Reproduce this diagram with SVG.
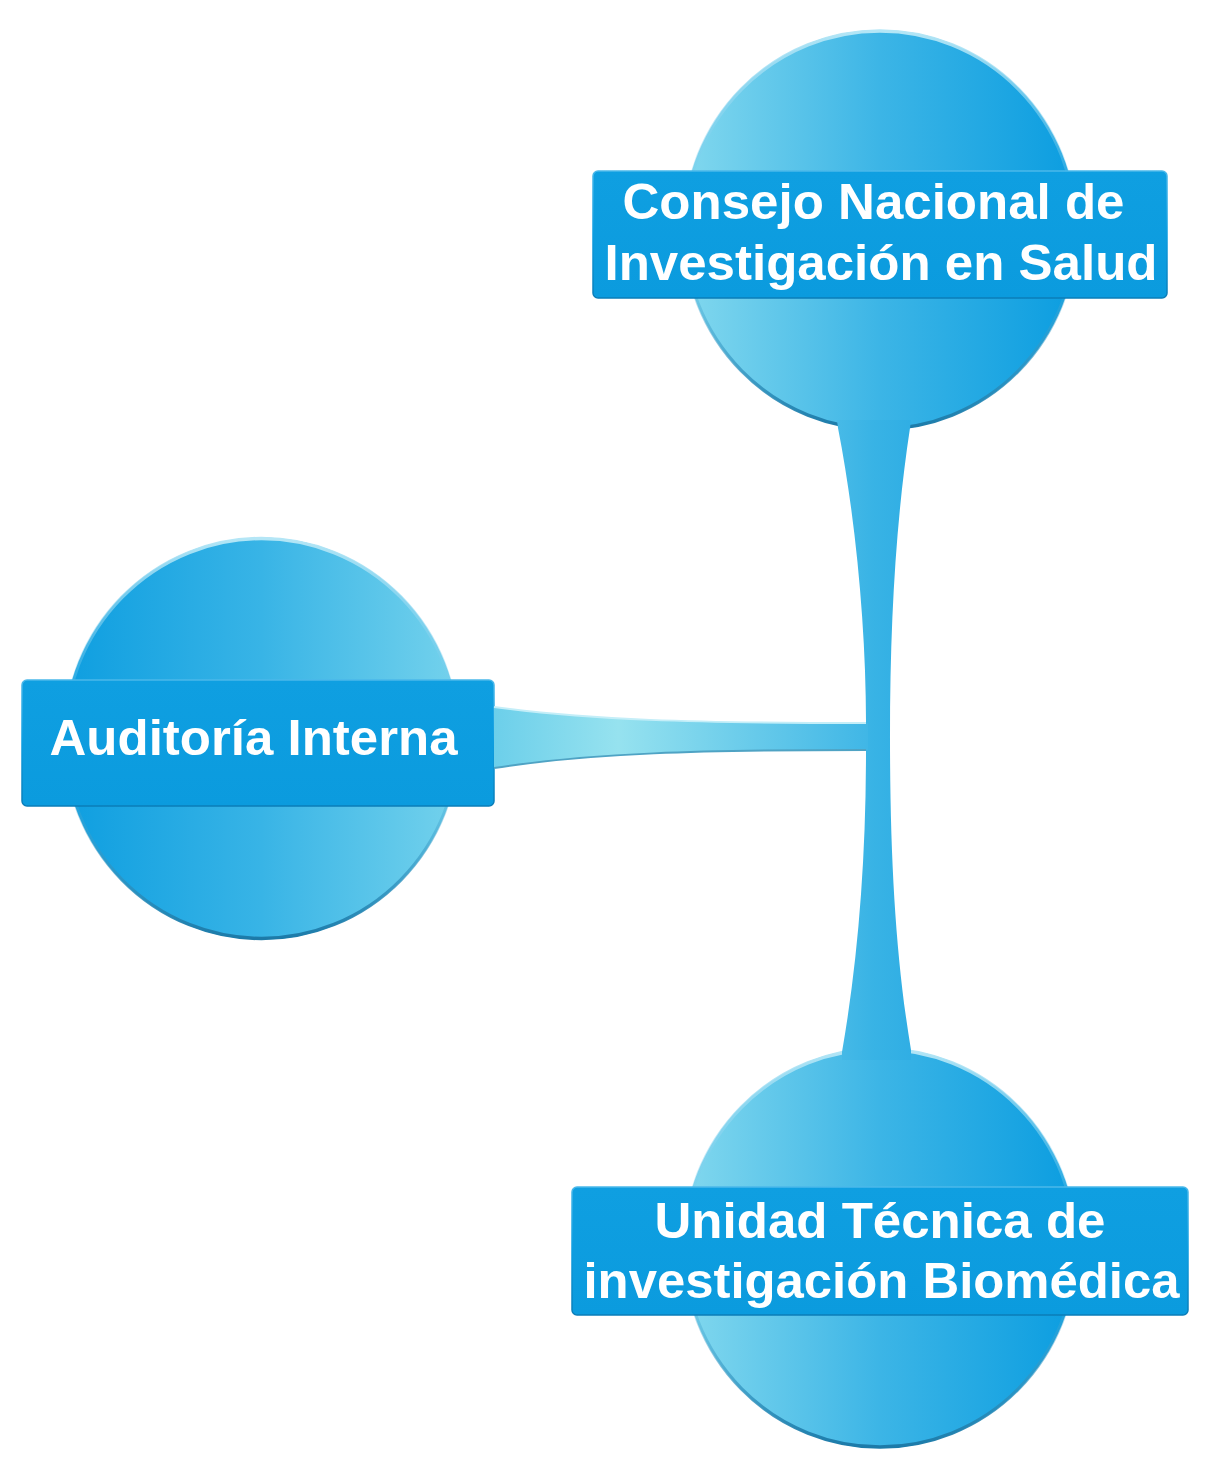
<svg xmlns="http://www.w3.org/2000/svg" width="1211" height="1473" viewBox="0 0 1211 1473">
<defs>
<linearGradient id="gLight" x1="0" y1="0" x2="1" y2="0">
<stop offset="0" stop-color="#82d8ee"/>
<stop offset="0.5" stop-color="#3cb5e6"/>
<stop offset="1" stop-color="#0b9de0"/>
</linearGradient>
<linearGradient id="gRev" x1="0" y1="0" x2="1" y2="0">
<stop offset="0" stop-color="#0e9ee0"/>
<stop offset="0.5" stop-color="#38b4e6"/>
<stop offset="1" stop-color="#74d2ec"/>
</linearGradient>
<linearGradient id="rim" x1="0" y1="0" x2="0" y2="1">
<stop offset="0" stop-color="#b4e6f6"/>
<stop offset="0.5" stop-color="#5cc0e8" stop-opacity="0"/>
<stop offset="1" stop-color="#1c7aa8"/>
</linearGradient>
<linearGradient id="lbl" x1="0" y1="0" x2="0" y2="1">
<stop offset="0" stop-color="#0f9fe1"/>
<stop offset="1" stop-color="#0b9bde"/>
</linearGradient>
<linearGradient id="lblEdge" x1="0" y1="0" x2="0" y2="1">
<stop offset="0" stop-color="#4ab8ea"/>
<stop offset="0.5" stop-color="#0e9de0"/>
<stop offset="1" stop-color="#0a7db8"/>
</linearGradient>
<linearGradient id="stem" x1="0" y1="0" x2="1" y2="0">
<stop offset="0" stop-color="#47bae7"/>
<stop offset="0.5" stop-color="#38b3e5"/>
<stop offset="1" stop-color="#30aee4"/>
</linearGradient>
<linearGradient id="branch" gradientUnits="userSpaceOnUse" x1="494" y1="0" x2="870" y2="0">
<stop offset="0" stop-color="#6ccfea"/>
<stop offset="0.33" stop-color="#96e2ef"/>
<stop offset="1" stop-color="#3fb6e6"/>
</linearGradient>
<style>
.rimc{fill:none;stroke:url(#rim);stroke-width:3.5}
.lab{fill:url(#lbl);stroke:url(#lblEdge);stroke-width:1.5}
.txt{font-family:"Liberation Sans",Arial,sans-serif;font-weight:bold;font-size:50px;fill:#ffffff;text-anchor:middle}
</style>
</defs>
<rect width="1211" height="1473" fill="#ffffff"/>
<g id="node-consejo">
<ellipse cx="880" cy="230" rx="197" ry="200" fill="url(#gLight)"/>
<ellipse cx="880" cy="230" rx="196" ry="199" class="rimc"/>
<rect x="593" y="171" width="574" height="127" rx="5" class="lab"/>
<text class="txt" x="873.5" y="219" textLength="502" lengthAdjust="spacingAndGlyphs">Consejo Nacional de</text>
<text class="txt" x="881" y="280" textLength="553" lengthAdjust="spacingAndGlyphs">Investigación en Salud</text>
</g>
<g id="node-auditoria">
<ellipse cx="261.5" cy="738.5" rx="198" ry="201" fill="url(#gRev)"/>
<ellipse cx="261.5" cy="738.5" rx="197" ry="200" class="rimc"/>
<rect x="22" y="680" width="472" height="126" rx="5" class="lab"/>
<text class="txt" x="253.5" y="755" textLength="408" lengthAdjust="spacingAndGlyphs">Auditoría Interna</text>
</g>
<g id="node-unidad">
<ellipse cx="880" cy="1248" rx="197" ry="200" fill="url(#gLight)"/>
<ellipse cx="880" cy="1248" rx="196" ry="199" class="rimc"/>
<rect x="572" y="1187" width="616" height="128" rx="5" class="lab"/>
<text class="txt" x="880" y="1238" textLength="451" lengthAdjust="spacingAndGlyphs">Unidad Técnica de</text>
<text class="txt" x="881.5" y="1298" textLength="596" lengthAdjust="spacingAndGlyphs">investigación Biomédica</text>
</g>
<g id="connectors">
<path d="M 837 420 L 838 428 C 856 520, 866 630, 866 722 L 866 750 C 866 860, 858 960, 842 1052 L 842 1060 L 911 1060 L 911 1050 C 896 960, 890 860, 890 738 C 890 620, 896 520, 910 428 L 911 420 Z" fill="url(#stem)"/>
<path d="M 494 707 C 590 720, 690 723, 868 723 L 868 750 C 700 750, 590 753, 494 768 Z" fill="url(#branch)"/>
<path d="M 494 707 C 590 720, 690 723, 866 723" fill="none" stroke="#c4eef8" stroke-width="2"/>
<path d="M 866 750 C 700 750, 590 753, 494 768" fill="none" stroke="#4fa3c4" stroke-width="2"/>
</g>
</svg>
